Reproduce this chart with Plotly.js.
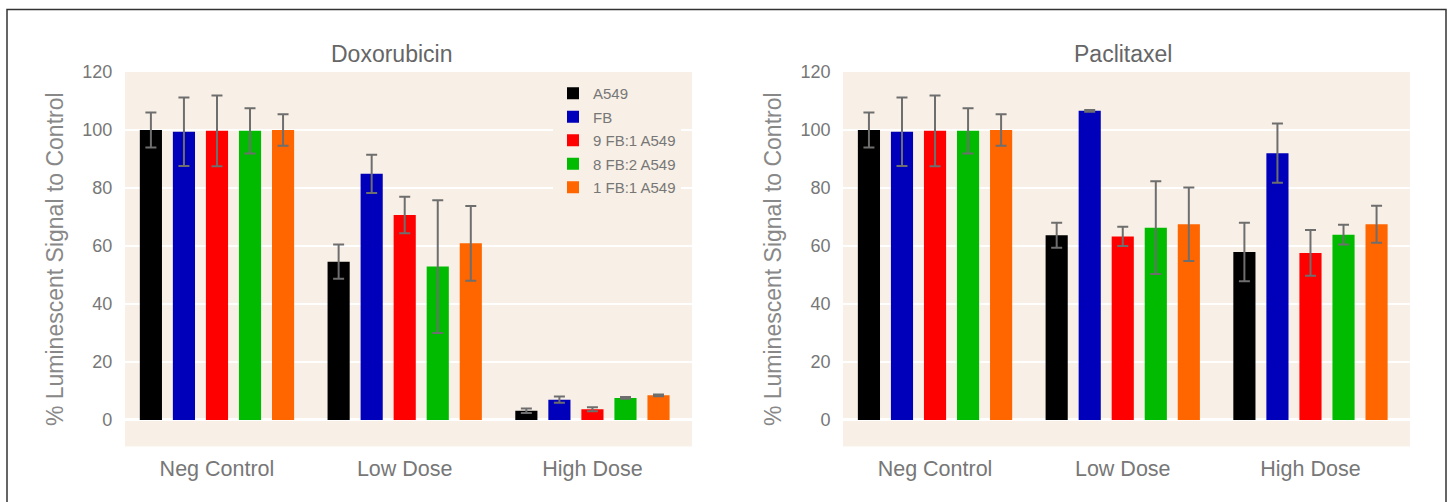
<!DOCTYPE html>
<html>
<head>
<meta charset="utf-8">
<script src="https://cdn.plot.ly/plotly-3.0.1.min.js"></script>
<style>html,body{margin:0;padding:0;background:#fff;}#chart{width:1450px;height:502px;}</style>
</head>
<body>
<div id="chart"></div>
<script>
const categories = ['Neg Control', 'Low Dose', 'High Dose'];
const seriesNames = ['A549', 'FB', '9 FB:1 A549', '8 FB:2 A549', '1 FB:1 A549'];
const seriesColors = ['#000000', '#0000bb', '#ff0000', '#00bb00', '#ff6600'];

// Doxorubicin
const doxA549 = [100, 54.6, 3.2];
const doxFB = [99.4, 84.9, 7.0];
const dox9FB1A = [99.7, 70.7, 3.7];
const dox8FB2A = [99.7, 52.9, 7.6];
const dox1FB1A = [100, 60.9, 8.5];
const doxA549Err = [6, 5.9, 0.8];
const doxFBErr = [11.8, 6.6, 1.1];
const dox9FB1AErr = [12.2, 6.3, 0.7];
const dox8FB2AErr = [7.8, 22.9, 0.3];
const dox1FB1AErr = [5.4, 12.9, 0.3];

// Paclitaxel
const pacA549 = [100, 63.7, 57.9];
const pacFB = [99.4, 106.6, 92.0];
const pac9FB1A = [99.7, 63.3, 57.6];
const pac8FB2A = [99.7, 66.3, 63.9];
const pac1FB1A = [100, 67.5, 67.5];
const pacA549Err = [6, 4.3, 10.1];
const pacFBErr = [11.8, 0.3, 10.2];
const pac9FB1AErr = [12.2, 3.3, 7.9];
const pac8FB2AErr = [7.8, 16, 3.4];
const pac1FB1AErr = [5.4, 12.7, 6.4];

const yTickVals = [0, 20, 40, 60, 80, 100, 120];

const doxVals = [doxA549, doxFB, dox9FB1A, dox8FB2A, dox1FB1A];
const doxErrs = [doxA549Err, doxFBErr, dox9FB1AErr, dox8FB2AErr, dox1FB1AErr];
const pacVals = [pacA549, pacFB, pac9FB1A, pac8FB2A, pac1FB1A];
const pacErrs = [pacA549Err, pacFBErr, pac9FB1AErr, pac8FB2AErr, pac1FB1AErr];

const traces = [];
function addSet(vals, errs, xa, ya, showLeg) {
  for (let i = 0; i < seriesNames.length; i++) {
    traces.push({
      type: 'bar',
      name: seriesNames[i],
      x: categories,
      y: vals[i],
      xaxis: xa, yaxis: ya,
      legendgroup: 'g' + i,
      showlegend: showLeg,
      marker: {color: seriesColors[i], line: {width: 0}},
      error_y: {type: 'data', array: errs[i], visible: true, color: '#6e6e6e', thickness: 2, width: 5.5}
    });
  }
}
addSet(doxVals, doxErrs, 'x', 'y', true);
addSet(pacVals, pacErrs, 'x2', 'y2', false);

const bg = '#f8f0e6';
const fontFam = 'Liberation Sans, Arial, sans-serif';
function xAxis(dom, anchor) {
  return {
    domain: dom, anchor: anchor, type: 'category',
    range: [-0.49, 2.53], showgrid: false, zeroline: false, showline: false,
    ticks: 'outside', ticklen: 3, tickcolor: 'rgba(0,0,0,0)',
    tickfont: {family: fontFam, size: 21.5, color: '#777777'}, fixedrange: true
  };
}
function yAxis(anchor) {
  return {
    domain: [0.1106, 0.8566], anchor: anchor,
    range: [-9.14, 120], tickvals: yTickVals,
    showgrid: true, gridcolor: '#ffffff', gridwidth: 2,
    zeroline: true, zerolinecolor: '#ffffff', zerolinewidth: 3,
    showline: false, ticks: 'outside', ticklen: 8, tickcolor: 'rgba(0,0,0,0)',
    tickfont: {family: fontFam, size: 18, color: '#777777'},
    title: {text: '% Luminescent Signal to Control', font: {family: fontFam, size: 23, color: '#888888'}, standoff: 12},
    fixedrange: true
  };
}

const layout = {
  width: 1450, height: 502,
  margin: {l: 0, r: 0, t: 0, b: 0},
  paper_bgcolor: '#ffffff', plot_bgcolor: bg,
  barmode: 'group', bargap: 0.12, bargroupgap: 0.33,
  font: {family: fontFam, color: '#777777'},
  xaxis: xAxis([0.0862, 0.4772], 'y'),
  yaxis: yAxis('x'),
  xaxis2: xAxis([0.5814, 0.9724], 'y2'),
  yaxis2: yAxis('x2'),
  showlegend: true,
  legend: {
    x: 553 / 1450, y: 1 - 77 / 502, xanchor: 'left', yanchor: 'top',
    bgcolor: bg, borderwidth: 0, tracegroupgap: 1,
    font: {family: fontFam, size: 15, color: '#777777'}
  },
  annotations: [
    {text: 'Doxorubicin', xref: 'paper', yref: 'paper', x: 391 / 1450, y: 1 - 54 / 502, xanchor: 'center', yanchor: 'middle', showarrow: false, font: {family: fontFam, size: 23, color: '#666666'}},
    {text: 'Paclitaxel', xref: 'paper', yref: 'paper', x: 1123 / 1450, y: 1 - 54 / 502, xanchor: 'center', yanchor: 'middle', showarrow: false, font: {family: fontFam, size: 23, color: '#666666'}}
  ],
  shapes: [
    {type: 'rect', xref: 'paper', yref: 'paper', x0: 7 / 1450, x1: 1446 / 1450, y0: -0.1, y1: 1 - 9.5 / 502, line: {color: '#333333', width: 1.5}, fillcolor: 'rgba(0,0,0,0)', layer: 'above'}
  ]
};

Plotly.newPlot('chart', traces, layout, {displayModeBar: false, staticPlot: true});
</script>
</body>
</html>
